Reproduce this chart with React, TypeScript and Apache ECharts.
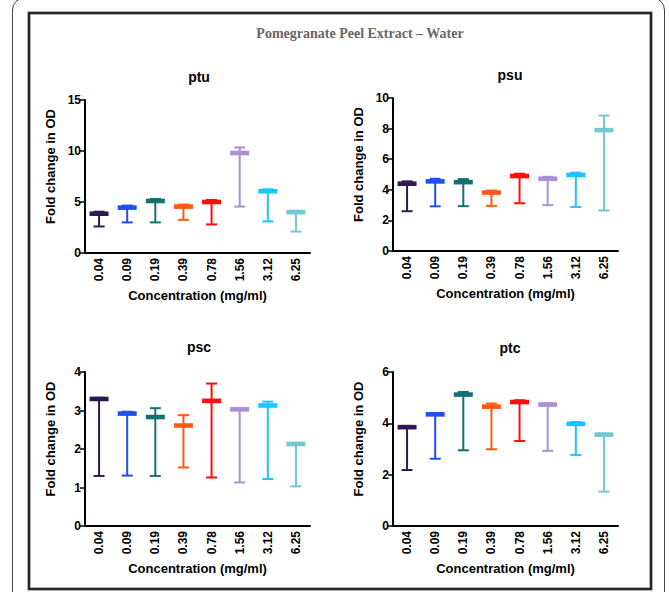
import React, { useEffect, useRef } from "react";
import * as echarts from "echarts";

const categories = ["0.04", "0.09", "0.19", "0.39", "0.78", "1.56", "3.12", "6.25"];
const colors = ["#2c1b52", "#1e50f0", "#137172", "#ff5a14", "#ff0d0d", "#a88fd8", "#1ec4ff", "#72c7d0"];

// ptu
const ptuMean = [3.85, 4.45, 5.1, 4.55, 5.0, 9.8, 6.05, 4.0];
const ptuLow = [2.6, 3.0, 3.0, 3.25, 2.8, 4.55, 3.1, 2.1];
const ptuHigh = [4.05, 4.65, 5.3, 4.75, 5.2, 10.35, 6.25, 4.15];
// psu
const psuMean = [4.4, 4.55, 4.5, 3.82, 4.9, 4.72, 4.97, 7.9];
const psuLow = [2.6, 2.92, 2.93, 2.95, 3.12, 3.0, 2.88, 2.65];
const psuHigh = [4.55, 4.72, 4.7, 3.95, 5.05, 4.85, 5.12, 8.85];
// psc
const pscMean = [3.3, 2.92, 2.83, 2.61, 3.25, 3.03, 3.13, 2.13];
const pscLow = [1.3, 1.31, 1.3, 1.52, 1.26, 1.13, 1.22, 1.03];
const pscHigh = [3.33, 2.97, 3.06, 2.88, 3.7, 3.06, 3.23, 2.16];
// ptc
const ptcMean = [3.85, 4.35, 5.12, 4.65, 4.83, 4.73, 3.98, 3.56];
const ptcLow = [2.18, 2.62, 2.95, 2.99, 3.31, 2.93, 2.77, 1.34];
const ptcHigh = [3.9, 4.4, 5.22, 4.77, 4.9, 4.78, 4.05, 3.6];

const panelNames = ["ptu", "psu", "psc", "ptc"];
const yMax = [15, 10, 4, 6];
const yInterval = [5, 2, 1, 2];

const FONT = "'Liberation Sans', Arial, sans-serif";

export default function App() {
  const ref = useRef<HTMLDivElement>(null);
  useEffect(() => {
    if (!ref.current) return;
    const chart = echarts.init(ref.current, null, { renderer: "svg" });
    const panels = [
      { mean: ptuMean, low: ptuLow, high: ptuHigh },
      { mean: psuMean, low: psuLow, high: psuHigh },
      { mean: pscMean, low: pscLow, high: pscHigh },
      { mean: ptcMean, low: ptcLow, high: ptcHigh },
    ];
    const grids = [
      { left: 85, top: 100, width: 225, height: 153 },
      { left: 393, top: 98, width: 225, height: 153 },
      { left: 85, top: 372, width: 225, height: 154 },
      { left: 393, top: 372, width: 225, height: 154 },
    ];
    const titlePos = [
      [199, 77],
      [510, 75],
      [199, 347],
      [510, 348],
    ];

    const renderItem = (params: any, api: any) => {
      const i = api.value(0);
      const pm = api.coord([i, api.value(1)]);
      const pl = api.coord([i, api.value(2)]);
      const ph = api.coord([i, api.value(3)]);
      const c = colors[i];
      const x = pm[0];
      return {
        type: "group",
        children: [
          { type: "line", shape: { x1: x, y1: ph[1], x2: x, y2: pl[1] }, style: { stroke: c, lineWidth: 2 } },
          { type: "line", shape: { x1: x - 5.5, y1: pl[1], x2: x + 5.5, y2: pl[1] }, style: { stroke: c, lineWidth: 2 } },
          { type: "line", shape: { x1: x - 5.5, y1: ph[1], x2: x + 5.5, y2: ph[1] }, style: { stroke: c, lineWidth: 2 } },
          { type: "rect", shape: { x: x - 9.5, y: pm[1] - 2.3, width: 19, height: 4.6 }, style: { fill: c } },
        ],
      };
    };

    const option: any = {
      animation: false,
      backgroundColor: "#ffffff",
      grid: grids,
      xAxis: grids.map((_, k) => ({
        type: "category",
        gridIndex: k,
        data: categories,
        name: "Concentration (mg/ml)",
        nameLocation: "middle",
        nameGap: 36,
        nameTextStyle: { fontFamily: FONT, fontWeight: "bold", fontSize: 13, color: "#000" },
        axisLine: { lineStyle: { color: "#000", width: 2 } },
        axisTick: { alignWithLabel: true, length: 4, lineStyle: { color: "#000", width: 1.5 } },
        axisLabel: { rotate: 90, fontFamily: FONT, fontWeight: "bold", fontSize: 12, color: "#000", margin: 5 },
        splitLine: { show: false },
      })),
      yAxis: grids.map((_, k) => ({
        type: "value",
        gridIndex: k,
        min: 0,
        max: yMax[k],
        interval: yInterval[k],
        name: "Fold change in OD",
        nameLocation: "middle",
        nameGap: 28,
        nameRotate: 90,
        nameTextStyle: { fontFamily: FONT, fontWeight: "bold", fontSize: 13, color: "#000", padding: [0, 0, 0, 20] },
        axisLine: { show: true, lineStyle: { color: "#000", width: 2 } },
        axisTick: { show: true, inside: false, length: 5, lineStyle: { color: "#000", width: 1.5 } },
        axisLabel: { fontFamily: FONT, fontWeight: "bold", fontSize: 12, color: "#000", margin: 4 },
        splitLine: { show: false },
      })),
      series: panels.map((p, k) => ({
        type: "custom",
        xAxisIndex: k,
        yAxisIndex: k,
        renderItem,
        encode: { x: 0, y: [1, 2, 3] },
        data: categories.map((_, i) => [i, p.mean[i], p.low[i], p.high[i]]),
      })),
      graphic: [
        {
          type: "rect",
          shape: { x: 12.5, y: -2, width: 652, height: 640, r: 12 },
          style: { fill: "none", stroke: "#444", lineWidth: 1 },
          silent: true,
        },
        {
          type: "rect",
          shape: { x: 29, y: 13, width: 622, height: 576 },
          style: { fill: "none", stroke: "#999", lineWidth: 3.5 },
          silent: true,
        },
        {
          type: "rect",
          shape: { x: 29, y: 13, width: 622, height: 576 },
          style: { fill: "none", stroke: "#000", lineWidth: 1.5 },
          silent: true,
        },
        {
          type: "text",
          x: 360,
          y: 33,
          style: {
            text: "Pomegranate Peel Extract – Water",
            fontFamily: "'Liberation Serif', 'Times New Roman', serif",
            fontWeight: "bold",
            fontSize: 14,
            fill: "#666",
            align: "center",
            verticalAlign: "middle",
          },
        },
        ...panelNames.map((n, k) => ({
          type: "text",
          x: titlePos[k][0],
          y: titlePos[k][1],
          style: {
            text: n,
            fontFamily: FONT,
            fontWeight: "bold",
            fontSize: 14,
            fill: "#000",
            align: "center",
            verticalAlign: "middle",
          },
        })),
      ],
    };
    chart.setOption(option);
    return () => chart.dispose();
  }, []);
  return (
    <div
      ref={ref}
      style={{ position: "fixed", left: 0, top: 0, width: 669, height: 592, background: "#fff" }}
    />
  );
}
